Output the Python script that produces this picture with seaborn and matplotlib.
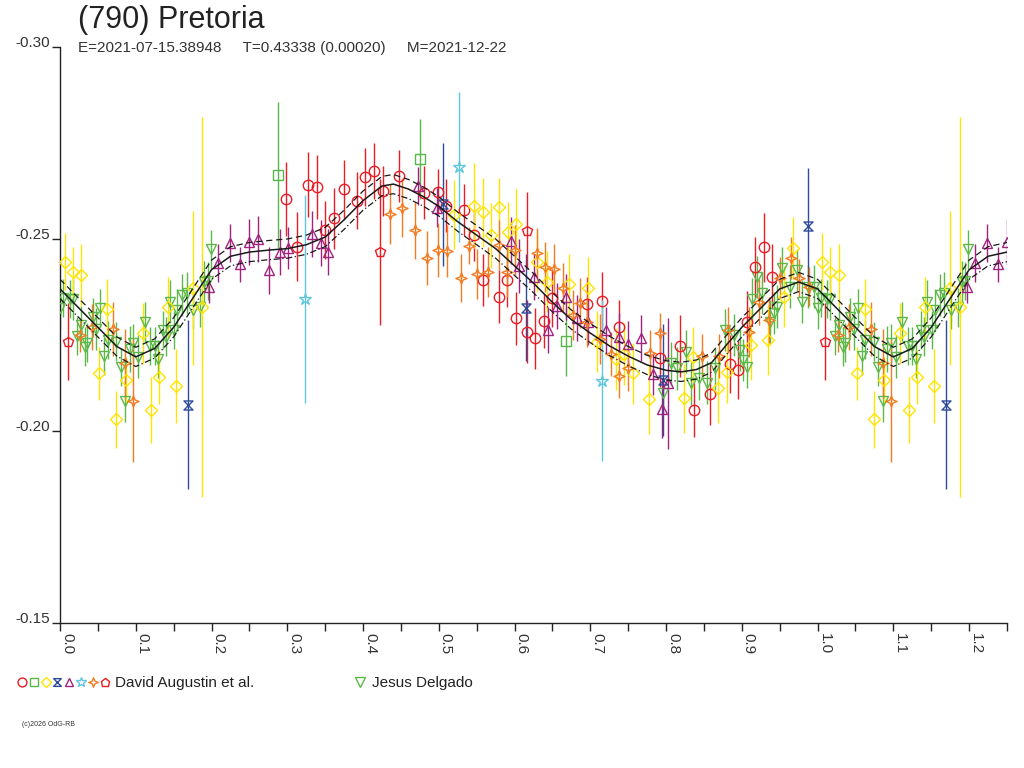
import numpy as np
import matplotlib
matplotlib.use("Agg")
import matplotlib.pyplot as plt
import seaborn as sns
from matplotlib.path import Path
from matplotlib.lines import Line2D
from matplotlib.legend_handler import HandlerTuple

# ---------------------------------------------------------------------------
# data (phase, reduced magnitude, error)
# ---------------------------------------------------------------------------
MODEL_PHASE = [0.000, 0.025, 0.050, 0.075, 0.100, 0.125, 0.150, 0.175, 0.200,
               0.225, 0.250, 0.275, 0.300, 0.325, 0.350, 0.375, 0.400, 0.425,
               0.440, 0.460, 0.480, 0.500, 0.525, 0.550, 0.575, 0.600, 0.625,
               0.650, 0.675, 0.700, 0.725, 0.750, 0.775, 0.800, 0.820, 0.840,
               0.860, 0.880, 0.900, 0.925, 0.950, 0.975, 1.000]
MODEL_MAG = [-0.2370, -0.2320, -0.2270, -0.2220, -0.2193, -0.2215, -0.2270,
             -0.2345, -0.2420, -0.2455, -0.2466, -0.2471, -0.2475, -0.2485,
             -0.2505, -0.2550, -0.2600, -0.2638, -0.2643, -0.2630, -0.2610,
             -0.2585, -0.2545, -0.2510, -0.2475, -0.2430, -0.2385, -0.2335,
             -0.2290, -0.2255, -0.2222, -0.2195, -0.2172, -0.2158, -0.2154,
             -0.2160, -0.2178, -0.2225, -0.2270, -0.2320, -0.2370, -0.2388,
             -0.2370]
MODEL_BAND = 0.0025

# David Augustin et al. - red circles
circ_ph = [0.298, 0.313, 0.328, 0.339, 0.350, 0.362, 0.375, 0.392, 0.403, 0.415,
           0.426, 0.448, 0.480, 0.499, 0.510, 0.533, 0.546, 0.558, 0.579, 0.590,
           0.602, 0.616, 0.627, 0.639, 0.649, 0.696, 0.716, 0.738, 0.792, 0.818,
           0.837, 0.858, 0.884, 0.895, 0.907, 0.917, 0.929, 0.940]
circ_mag = [-0.2604, -0.2480, -0.2641, -0.2635, -0.2523, -0.2554, -0.2629, -0.2600,
            -0.2661, -0.2678, -0.2626, -0.2665, -0.2621, -0.2623, -0.2587, -0.2576,
            -0.2510, -0.2393, -0.2350, -0.2393, -0.2293, -0.2259, -0.2241, -0.2287,
            -0.2346, -0.2330, -0.2339, -0.2272, -0.2189, -0.2221, -0.2055, -0.2096,
            -0.2174, -0.2159, -0.2285, -0.2426, -0.2478, -0.2402]
circ_err = [0.0096, 0.0090, 0.0085, 0.0083, 0.0076, 0.0080, 0.0077, 0.0074, 0.0075,
            0.0073, 0.0065, 0.0068, 0.0068, 0.0058, 0.0070, 0.0068, 0.0068, 0.0068,
            0.0070, 0.0070, 0.0068, 0.0083, 0.0080, 0.0070, 0.0075, 0.0070, 0.0075,
            0.0070, 0.0075, 0.0080, 0.0070, 0.0080, 0.0075, 0.0075, 0.0080, 0.0080,
            0.0090, 0.0085]

# green squares
sq_ph = [0.288, 0.475, 0.668]
sq_mag = [-0.2667, -0.2708, -0.2234]
sq_err = [0.0190, 0.0105, 0.0090]

# yellow diamonds
dia_ph = [0.006, 0.017, 0.028, 0.052, 0.062, 0.074, 0.087, 0.109, 0.120, 0.131,
          0.142, 0.153, 0.175, 0.188, 0.520, 0.547, 0.558, 0.569, 0.580, 0.591,
          0.602, 0.629, 0.643, 0.672, 0.697, 0.709, 0.734, 0.745, 0.756, 0.778,
          0.823, 0.836, 0.869, 0.880, 0.912, 0.934, 0.956, 0.967]
dia_mag = [-0.2441, -0.2415, -0.2406, -0.2150, -0.2317, -0.2031, -0.2133, -0.2254,
           -0.2055, -0.2140, -0.2322, -0.2117, -0.2372, -0.2324, -0.2563, -0.2587,
           -0.2570, -0.2510, -0.2583, -0.2517, -0.2539, -0.2441, -0.2389, -0.2382,
           -0.2373, -0.2233, -0.2187, -0.2201, -0.2150, -0.2083, -0.2085, -0.2192,
           -0.2111, -0.2154, -0.2224, -0.2237, -0.2350, -0.2476]
dia_err = [0.0074, 0.0065, 0.0080, 0.0070, 0.0080, 0.0074, 0.0060, 0.0080, 0.0085,
           0.0070, 0.0080, 0.0097, 0.0200, 0.0495, 0.0090, 0.0110, 0.0090, 0.0085,
           0.0075, 0.0080, 0.0090, 0.0080, 0.0080, 0.0080, 0.0080, 0.0080, 0.0080,
           0.0080, 0.0080, 0.0090, 0.0090, 0.0080, 0.0090, 0.0080, 0.0090, 0.0090,
           0.0080, 0.0080]

# blue hourglasses
hg_ph = [0.169, 0.505, 0.615, 0.796, 0.987]
hg_mag = [-0.2068, -0.2590, -0.2321, -0.2133, -0.2534]
hg_err = [0.0220, 0.0160, 0.0140, 0.0145, 0.0150]

# purple triangles
tri_ph = [0.197, 0.208, 0.224, 0.238, 0.250, 0.262, 0.276, 0.290, 0.301, 0.333,
          0.345, 0.354, 0.472, 0.497, 0.595, 0.606, 0.625, 0.644, 0.656, 0.668,
          0.682, 0.697, 0.721, 0.738, 0.750, 0.767, 0.783, 0.795, 0.803]
tri_mag = [-0.2374, -0.2437, -0.2489, -0.2434, -0.2493, -0.2499, -0.2418, -0.2467,
           -0.2476, -0.2513, -0.2489, -0.2467, -0.2638, -0.2582, -0.2496, -0.2430,
           -0.2402, -0.2263, -0.2326, -0.2350, -0.2294, -0.2285, -0.2263, -0.2246,
           -0.2227, -0.2241, -0.2148, -0.2057, -0.2124]
tri_err = [0.0040, 0.0050, 0.0050, 0.0045, 0.0060, 0.0060, 0.0060, 0.0060, 0.0055,
           0.0060, 0.0060, 0.0060, 0.0050, 0.0050, 0.0060, 0.0070, 0.0060, 0.0060,
           0.0060, 0.0060, 0.0060, 0.0060, 0.0060, 0.0060, 0.0060, 0.0060, 0.0055,
           0.0075, 0.0170]

# cyan stars
star_ph = [0.323, 0.527, 0.716]
star_mag = [-0.2344, -0.2688, -0.2131]
star_err = [0.0270, 0.0195, 0.0210]

# orange four-point stars
x4_ph = [0.027, 0.042, 0.070, 0.086, 0.097, 0.436, 0.452, 0.469, 0.485, 0.499,
         0.511, 0.529, 0.540, 0.551, 0.565, 0.579, 0.590, 0.601, 0.629, 0.640,
         0.652, 0.664, 0.677, 0.686, 0.696, 0.713, 0.727, 0.738, 0.750, 0.779,
         0.792, 0.847, 0.870, 0.882, 0.910, 0.922, 0.936, 0.950, 0.965, 0.976,
         0.989]
x4_mag = [-0.2250, -0.2272, -0.2265, -0.2176, -0.2079, -0.2565, -0.2582, -0.2523,
          -0.2450, -0.2471, -0.2469, -0.2399, -0.2483, -0.2409, -0.2413, -0.2484,
          -0.2415, -0.2471, -0.2463, -0.2428, -0.2421, -0.2372, -0.2302, -0.2333,
          -0.2285, -0.2239, -0.2201, -0.2143, -0.2163, -0.2204, -0.2256, -0.2195,
          -0.2195, -0.2263, -0.2259, -0.2337, -0.2289, -0.2398, -0.2450, -0.2398,
          -0.2376]
x4_err = [0.0045, 0.0060, 0.0070, 0.0090, 0.0160, 0.0078, 0.0078, 0.0074, 0.0070,
          0.0070, 0.0068, 0.0062, 0.0047, 0.0065, 0.0065, 0.0065, 0.0065, 0.0065,
          0.0065, 0.0065, 0.0065, 0.0065, 0.0065, 0.0065, 0.0065, 0.0065, 0.0058,
          0.0058, 0.0058, 0.0058, 0.0052, 0.0058, 0.0058, 0.0060, 0.0065, 0.0060,
          0.0060, 0.0055, 0.0055, 0.0050, 0.0050]

# red pentagons
pent_ph = [0.010, 0.423, 0.617]
pent_mag = [-0.2233, -0.2465, -0.2522]
pent_err = [0.0100, 0.0190, 0.0100]

# Jesus Delgado - green down triangles
jd_ph = [0.000, 0.004, 0.013, 0.017, 0.023, 0.028, 0.033, 0.036, 0.043, 0.048,
         0.053, 0.058, 0.063, 0.074, 0.080, 0.086, 0.092, 0.097, 0.103, 0.112,
         0.119, 0.125, 0.130, 0.136, 0.140, 0.145, 0.151, 0.155, 0.161, 0.167,
         0.176, 0.185, 0.190, 0.195, 0.199, 0.796, 0.806, 0.815, 0.826, 0.833,
         0.843, 0.854, 0.865, 0.878, 0.889, 0.898, 0.902, 0.907, 0.914, 0.920,
         0.926, 0.937, 0.942, 0.947, 0.953, 0.964, 0.973, 0.979, 0.987, 0.995]
jd_mag = [-0.2320, -0.2346, -0.2343, -0.2343, -0.2247, -0.2276, -0.2220, -0.2230,
          -0.2296, -0.2265, -0.2320, -0.2195, -0.2237, -0.2233, -0.2167, -0.2079,
          -0.2213, -0.2228, -0.2194, -0.2285, -0.2221, -0.2221, -0.2187, -0.2263,
          -0.2246, -0.2337, -0.2263, -0.2315, -0.2354, -0.2359, -0.2315, -0.2322,
          -0.2389, -0.2391, -0.2473, -0.2098, -0.2176, -0.2163, -0.2207, -0.2124,
          -0.2137, -0.2126, -0.2163, -0.2263, -0.2250, -0.2211, -0.2185, -0.2167,
          -0.2343, -0.2402, -0.2359, -0.2285, -0.2307, -0.2324, -0.2424, -0.2376,
          -0.2419, -0.2337, -0.2376, -0.2376]
jd_err = [0.0055, 0.0050, 0.0050, 0.0055, 0.0050, 0.0050, 0.0050, 0.0050, 0.0050,
          0.0055, 0.0050, 0.0050, 0.0050, 0.0050, 0.0050, 0.0055, 0.0060, 0.0050,
          0.0055, 0.0050, 0.0050, 0.0050, 0.0050, 0.0050, 0.0050, 0.0055, 0.0050,
          0.0055, 0.0055, 0.0055, 0.0050, 0.0050, 0.0055, 0.0050, 0.0050, 0.0055,
          0.0055, 0.0055, 0.0055, 0.0055, 0.0055, 0.0055, 0.0055, 0.0055, 0.0055,
          0.0055, 0.0055, 0.0055, 0.0055, 0.0055, 0.0055, 0.0055, 0.0055, 0.0055,
          0.0055, 0.0055, 0.0055, 0.0055, 0.0055, 0.0055]

X_TICKS = [0.0, 0.1, 0.2, 0.3, 0.4, 0.5, 0.6, 0.7, 0.8, 0.9, 1.0, 1.1, 1.2]
Y_TICKS = [-0.30, -0.25, -0.20, -0.15]

TITLE = "(790) Pretoria"
SUBTITLE = "E=2021-07-15.38948     T=0.43338 (0.00020)     M=2021-12-22"


def wrapped(ph, *cols, upto=0.25, skip_zero=False):
    """Repeat the first part of the cycle after phase 1 (plot runs to 1.25)."""
    ph = np.asarray(ph, dtype=float)
    sel = ph <= upto + 1e-9
    if skip_zero:
        sel &= ph > 0
    out = [np.r_[ph, ph[sel] + 1.0]]
    for c in cols:
        c = np.asarray(c, dtype=float)
        out.append(np.r_[c, c[sel]])
    return out


# custom symbols
hourglass = Path([(-1, 1), (1, 1), (-1, -1), (1, -1), (-1, 1)],
                 [Path.MOVETO, Path.LINETO, Path.LINETO, Path.LINETO, Path.CLOSEPOLY])
star4 = Path([(0, 1), (0.28, 0.28), (1, 0), (0.28, -0.28), (0, -1),
              (-0.28, -0.28), (-1, 0), (-0.28, 0.28), (0, 1)],
             [Path.MOVETO] + [Path.LINETO] * 7 + [Path.CLOSEPOLY])

RED = "#ec1c24"
series = [
    (circ_ph, circ_mag, circ_err, "o", RED, 7.5),
    (sq_ph, sq_mag, sq_err, "s", "#55b848", 6.5),
    (dia_ph, dia_mag, dia_err, "D", "#ffe400", 6.0),
    (hg_ph, hg_mag, hg_err, hourglass, "#2f4b9c", 6.5),
    (tri_ph, tri_mag, tri_err, "^", "#a2237f", 7.5),
    (star_ph, star_mag, star_err, "*", "#5ec6df", 9.0),
    (x4_ph, x4_mag, x4_err, star4, "#f47b20", 8.0),
    (pent_ph, pent_mag, pent_err, "p", RED, 7.5),
]
delgado = (jd_ph, jd_mag, jd_err, "v", "#5cb848", 7.5)

# ---------------------------------------------------------------------------
sns.set_theme(style="white")
plt.rcParams["font.family"] = ["Liberation Sans", "DejaVu Sans"]

fig = plt.figure(figsize=(10.24, 7.68), dpi=100)
ax = fig.add_axes([60 / 1024, 1 - 623 / 768, 947 / 1024, 576 / 768])

# observations (error bar + hollow symbol)
for ph, mg, er, mk, col, ms in [delgado] + series:
    p, m, e = wrapped(ph, mg, er)
    ax.errorbar(p, m, yerr=e, fmt="none", ecolor=col, elinewidth=1.0, capsize=0, zorder=2)
    ax.plot(p, m, ls="none", marker=mk, ms=ms, mfc="none", mec=col, mew=1.0, zorder=3)

# Fourier model and its envelope
mp, mm = wrapped(MODEL_PHASE, MODEL_MAG, skip_zero=True)
sns.lineplot(x=mp, y=mm, ax=ax, color="#1a1a1a", lw=1.1, sort=False, estimator=None, zorder=5)
sns.lineplot(x=mp, y=mm - MODEL_BAND, ax=ax, color="#1a1a1a", lw=0.9, linestyle=(0, (5, 3)),
             sort=False, estimator=None, zorder=5)
sns.lineplot(x=mp, y=mm + MODEL_BAND, ax=ax, color="#1a1a1a", lw=0.9, linestyle=(0, (5, 2, 1, 2)),
             sort=False, estimator=None, zorder=5)

# axes
ax.set_xlim(0, 1.25)
ax.set_ylim(-0.15, -0.30)
ax.set_xticks(X_TICKS)
ax.set_xticklabels([f"{v:.1f}" for v in X_TICKS])
ax.set_xticks([v + 0.05 for v in X_TICKS], minor=True)
ax.set_yticks(Y_TICKS)
ax.set_yticklabels([f"{v:.2f}" for v in Y_TICKS])
ax.set_xlabel("")
ax.set_ylabel("")
ax.grid(False)
for s in ["top", "right"]:
    ax.spines[s].set_visible(False)
for s in ["left", "bottom"]:
    ax.spines[s].set_color("#222222")
    ax.spines[s].set_linewidth(1.0)
ax.tick_params(axis="both", which="both", direction="out", length=6, width=1,
               color="#222222", labelsize=11, labelcolor="#333333",
               bottom=True, left=True)
ax.tick_params(axis="x", pad=1)
ax.tick_params(axis="y", pad=1)
for lbl in ax.get_xticklabels():
    lbl.set_rotation(-90)
    lbl.set_ha("left")
for lbl in ax.get_yticklabels():
    lbl.set_va("baseline")

# texts
fig.text(78 / 1024, 1 - 20 / 768, TITLE, fontsize=22, color="#222222", va="center")
fig.text(78 / 1024, 1 - 48 / 768, SUBTITLE, fontsize=11, color="#333333", va="center")
fig.text(22 / 1024, 1 - 725 / 768, "(c)2026 OdG-RB", fontsize=5, color="#333333", va="center")

# legend
aug_handles = tuple(Line2D([], [], ls="none", marker=mk, ms=ms * 0.85, mfc="none", mec=col, mew=1.0)
                    for _, _, _, mk, col, ms in series)
leg1 = fig.legend([aug_handles], ["David Augustin et al."],
                  handler_map={tuple: HandlerTuple(ndivide=None, pad=0.0)},
                  loc="center left", bbox_to_anchor=(16 / 1024, 1 - 683 / 768),
                  frameon=False, handlelength=6.2, handletextpad=0.3, fontsize=11,
                  borderpad=0, borderaxespad=0)
jd_handle = Line2D([], [], ls="none", marker="v", ms=6.5, mfc="none", mec=delgado[4], mew=1.0)
leg2 = fig.legend([jd_handle], ["Jesus Delgado"], loc="center left",
                  bbox_to_anchor=(352 / 1024, 1 - 683 / 768), frameon=False,
                  handlelength=1.0, handletextpad=0.3, fontsize=11,
                  borderpad=0, borderaxespad=0)
for leg in (leg1, leg2):
    for t in leg.get_texts():
        t.set_color("#222222")

fig.savefig("out.png", dpi=100)
